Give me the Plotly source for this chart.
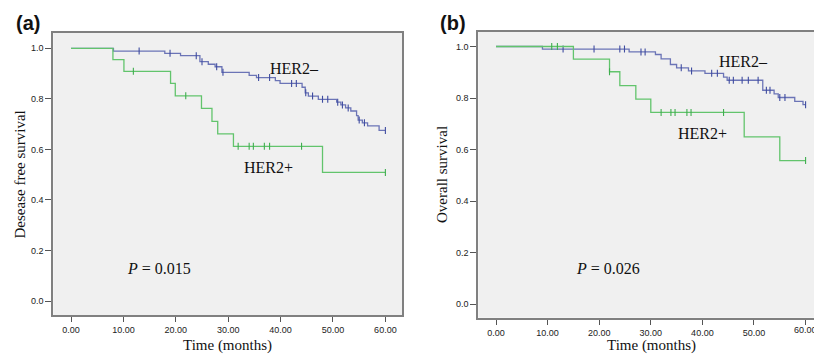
import plotly.graph_objects as go

W, H = 814, 356

# ---------------- data ----------------
x_ticks = [0, 10, 20, 30, 40, 50, 60]
y_ticks = [0.0, 0.2, 0.4, 0.6, 0.8, 1.0]

# Panel (a) Disease free survival
a_neg_t = [0, 8.1, 17.9, 20.9, 24.6, 26.2, 27.5, 28.8, 34.0, 35.4, 39.0, 39.9, 44.1, 44.7,
           45.3, 47.2, 50.7, 51.5, 52.4, 53.4, 54.5, 54.8, 55.6, 56.6, 58.8, 60.0]
a_neg_s = [1.0, 0.989, 0.980, 0.971, 0.947, 0.937, 0.927, 0.905, 0.893, 0.884, 0.872, 0.861, 0.846, 0.824,
           0.811, 0.798, 0.787, 0.776, 0.764, 0.752, 0.734, 0.716, 0.705, 0.693, 0.675, 0.675]
a_neg_cens = [13.0, 18.9, 23.9, 25.0, 27.8, 29.0, 35.8, 37.9, 42.1, 43.0, 44.8, 46.1, 48.0,
              49.0, 50.9, 51.8, 52.9, 55.0, 56.0, 60.0]

a_pos_t = [0, 8.0, 10.1, 19.0, 19.9, 24.9, 26.9, 28.0, 31.0, 48.0, 60.0]
a_pos_s = [1.0, 0.955, 0.909, 0.861, 0.812, 0.762, 0.711, 0.661, 0.612, 0.509, 0.509]
a_pos_cens = [11.9, 21.9, 31.9, 34.0, 34.8, 36.9, 37.9, 44.0, 60.0]

# Panel (b) Overall survival
b_neg_t = [0, 9.0, 25.8, 30.9, 32.0, 33.8, 35.0, 37.3, 40.5, 44.1, 44.8, 51.7, 53.9, 54.7,
           57.9, 59.5, 60.0]
b_neg_s = [1.0, 0.990, 0.979, 0.969, 0.952, 0.930, 0.917, 0.905, 0.896, 0.881, 0.869, 0.830, 0.816, 0.802,
           0.787, 0.774, 0.774]
b_neg_cens = [13.0, 19.0, 24.0, 24.9, 28.1, 28.9, 35.9, 37.9, 41.8, 42.9, 45.2, 46.0, 47.7,
              48.9, 50.8, 52.4, 53.1, 55.0, 56.0, 60.0]

b_pos_t = [0, 15.0, 22.0, 24.0, 27.1, 30.0, 48.1, 55.0, 60.0]
b_pos_s = [1.0, 0.951, 0.902, 0.848, 0.796, 0.744, 0.649, 0.557, 0.557]
b_pos_cens = [10.8, 11.9, 22.0, 32.0, 33.9, 34.7, 37.0, 37.8, 44.1, 60.0]

# ---------------- styling ----------------
BLUE = "#6b74b6"
BLUE_M = "#3f4ca0"
GREEN = "#62c46c"
GREEN_M = "#3fae4f"


def step_at(ts, ss, t):
    v = ss[0]
    for ti, si in zip(ts, ss):
        if ti <= t:
            v = si
    return v


fig = go.Figure()


def add_curve(ts, ss, cens, color, mcolor, xa, ya):
    fig.add_trace(go.Scatter(x=ts, y=ss, mode="lines", line=dict(color=color, width=1.3, shape="hv"),
                             xaxis=xa, yaxis=ya, showlegend=False, hoverinfo="skip"))
    fig.add_trace(go.Scatter(x=cens, y=[step_at(ts, ss, c) for c in cens], mode="markers",
                             marker=dict(symbol="line-ns", size=5, line=dict(color=mcolor, width=1.1)),
                             xaxis=xa, yaxis=ya, showlegend=False, hoverinfo="skip"))


add_curve(a_neg_t, a_neg_s, a_neg_cens, BLUE, BLUE_M, "x", "y")
add_curve(a_pos_t, a_pos_s, a_pos_cens, GREEN, GREEN_M, "x", "y")
add_curve(b_neg_t, b_neg_s, b_neg_cens, BLUE, BLUE_M, "x2", "y2")
add_curve(b_pos_t, b_pos_s, b_pos_cens, GREEN, GREEN_M, "x2", "y2")

tickfont = dict(family="Liberation Sans, Arial, sans-serif", size=9, color="#222222")
common_x = dict(tickvals=x_ticks, tickformat=".2f", ticks="outside", ticklen=5, tickwidth=1.2,
                tickcolor="#555555", showgrid=False, zeroline=False, showline=True,
                linecolor="#808080", linewidth=2, tickfont=tickfont, mirror=True)
common_y = dict(tickvals=y_ticks, tickformat=".1f", ticks="outside", ticklen=6, tickwidth=1.2,
                tickcolor="#555555", showgrid=False, zeroline=False, showline=True,
                linecolor="#808080", linewidth=2, tickfont=tickfont)

fig.update_layout(
    width=W, height=H,
    margin=dict(l=0, r=0, t=0, b=0),
    paper_bgcolor="white",
    plot_bgcolor="#f0f0f0",
    xaxis=dict(common_x, domain=[53.3 / W, 402 / W], range=[-3.38, 63.17], anchor="y"),
    yaxis=dict(common_y, domain=[1 - 315 / H, 1 - 33 / H], range=[-0.0554, 1.0606], anchor="x", mirror=True),
    xaxis2=dict(common_x, domain=[478.3 / W, 1.0], range=[-3.43, 61.63], anchor="y2"),
    yaxis2=dict(common_y, domain=[1 - 317.7 / H, 1 - 32 / H], range=[-0.0532, 1.0563], anchor="x2", mirror=False),
)

serif = "Liberation Serif, Times New Roman, serif"


def ann(text, px, py, size=16, family=serif, angle=0):
    fig.add_annotation(text=text, x=px / W, y=1 - py / H, xref="paper", yref="paper",
                       xanchor="center", yanchor="middle", showarrow=False, textangle=angle,
                       font=dict(family=family, size=size, color="#111111"))


ann("<b>(a)</b>", 28, 23, size=20, family="Liberation Sans, Arial, sans-serif")
ann("<b>(b)</b>", 453, 23, size=20, family="Liberation Sans, Arial, sans-serif")
ann("HER2–", 294, 69)
ann("HER2+", 268.5, 167)
ann("HER2–", 743, 61.5)
ann("HER2+", 702.5, 133)
ann("<i>P</i> = 0.015", 158.7, 268)
ann("<i>P</i> = 0.026", 608.3, 268)
ann("Time (months)", 227.6, 345, size=15)
ann("Time (months)", 651, 345, size=15)
ann("Desease free survival", 19.5, 175, size=15, angle=-90)
ann("Overall survival", 442, 175, size=15, angle=-90)

# last tick label of panel (b) runs past the right edge (clipped like the reference)
fig.add_annotation(text="60.00", x=x_ticks[-1], xref="x2", y=1 - 330 / H, yref="paper",
                   xanchor="center", yanchor="middle", showarrow=False, font=tickfont)

fig.write_html("out.html", config={"displayModeBar": False},
               post_script="document.body.style.margin='0px';document.body.style.overflow='hidden';")
